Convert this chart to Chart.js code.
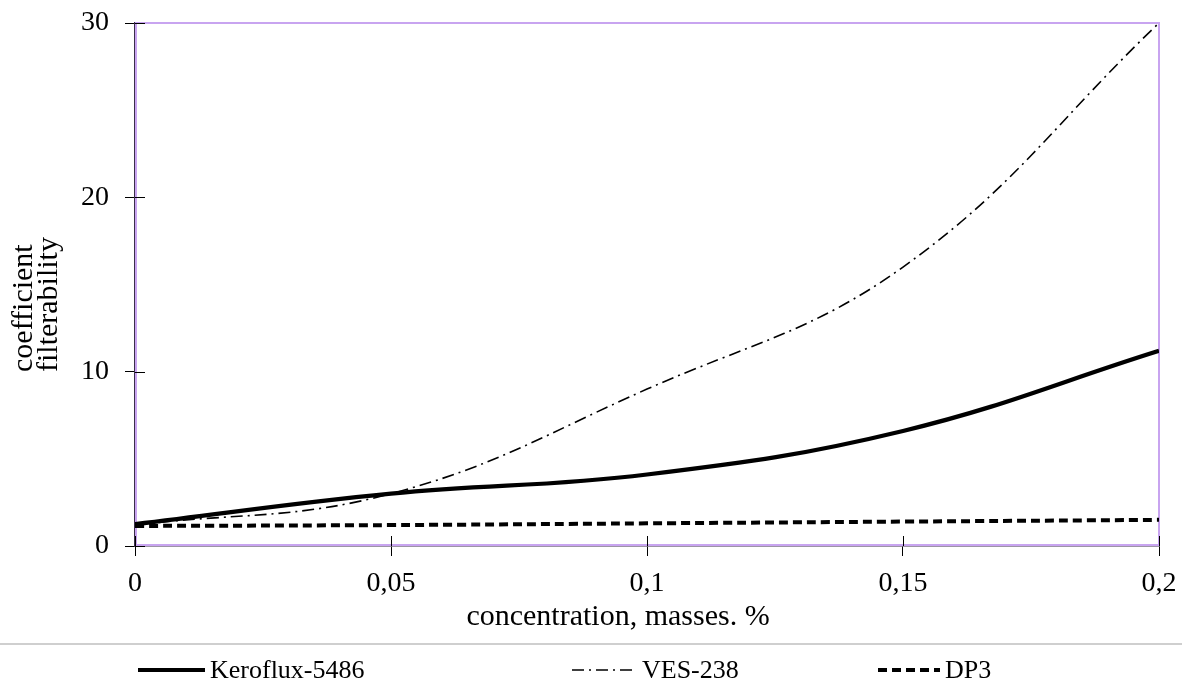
<!DOCTYPE html>
<html>
<head>
<meta charset="utf-8">
<title>Filterability coefficient vs concentration</title>
<script src="https://cdn.jsdelivr.net/npm/chart.js@4.4.1/dist/chart.umd.min.js"></script>
<style>
  html, body { margin: 0; padding: 0; background: #ffffff; }
  #wrap { width: 1182px; height: 689px; position: relative; }
  canvas { display: block; }
</style>
</head>
<body>
<div id="wrap"><canvas id="chart" width="1182" height="689"></canvas></div>
<script>
// Concentration, mass %
const concentration = [0, 0.05, 0.1, 0.15, 0.2];
// Filterability coefficient per additive
const keroflux5486 = [1.25, 3.0, 4.1, 6.6, 11.2];
const ves238 = [1.2, 3.0, 9.0, 16.0, 30.0];
const dp3 = [1.15, 1.2, 1.3, 1.4, 1.5];

const seriesNames = ['Keroflux-5486', 'VES-238', 'DP3'];
const xTickLabels = ['0', '0,05', '0,1', '0,15', '0,2'];
const yTickLabels = ['0', '10', '20', '30'];
const xTitle = 'concentration, masses. %';
const yTitle = ['coefficient', 'filterability'];

const SERIF = '"Liberation Serif", "Times New Roman", serif';
const INK = '#000000';

function points(ys) {
  return concentration.map((x, i) => ({ x: x, y: ys[i] }));
}

// Styles per series: solid thick, thin dash-dot, thick dashed
const styles = [
  { borderWidth: 4.2, borderDash: [] },
  { borderWidth: 1.6, borderDash: [12, 5, 2, 5] },
  { borderWidth: 4, borderDash: [9, 5] }
];
const values = [keroflux5486, ves238, dp3];

const datasets = seriesNames.map((name, i) => ({
  label: name,
  data: points(values[i]),
  borderColor: INK,
  backgroundColor: INK,
  borderWidth: styles[i].borderWidth,
  borderDash: styles[i].borderDash,
  borderCapStyle: 'butt',
  pointRadius: 0,
  pointHoverRadius: 0,
  tension: 0.4,
  fill: false
}));

// Plot frame, crossing ticks, axis titles and the legend row
const decorations = {
  id: 'decorations',
  beforeDatasetsDraw(chart) {
    const { ctx, chartArea: a } = chart;
    ctx.save();
    ctx.strokeStyle = '#c8a4f0';
    ctx.lineWidth = 2;
    ctx.strokeRect(a.left + 1, a.top, a.right - a.left - 1, a.bottom - a.top - 1);
    ctx.restore();
  },
  afterDraw(chart) {
    const { ctx, chartArea: a, scales } = chart;
    ctx.save();

    // inner halves of the tick marks
    ctx.strokeStyle = INK;
    ctx.lineWidth = 1;
    ctx.beginPath();
    scales.x.ticks.forEach(t => {
      const px = Math.round(scales.x.getPixelForValue(t.value)) + 0.5;
      ctx.moveTo(px, a.bottom);
      ctx.lineTo(px, a.bottom - 10);
    });
    scales.y.ticks.forEach(t => {
      const py = Math.round(scales.y.getPixelForValue(t.value)) + 0.5;
      ctx.moveTo(a.left, py);
      ctx.lineTo(a.left + 10, py);
    });
    ctx.stroke();

    // x axis title
    ctx.fillStyle = INK;
    ctx.font = '30px ' + SERIF;
    ctx.textAlign = 'center';
    ctx.textBaseline = 'middle';
    ctx.fillText(xTitle, (a.left + a.right) / 2 - 29, 617);

    // y axis title, two lines read bottom to top
    ctx.save();
    ctx.translate(0, 372);
    ctx.rotate(-Math.PI / 2);
    ctx.textAlign = 'left';
    ctx.textBaseline = 'middle';
    ctx.font = '30px ' + SERIF;
    ctx.fillText(yTitle[0], 0, 24);
    ctx.fillText(yTitle[1], 0, 49);
    ctx.restore();

    // separator above the legend
    ctx.strokeStyle = '#bfbfbf';
    ctx.lineWidth = 1.5;
    ctx.beginPath();
    ctx.moveTo(0, 644);
    ctx.lineTo(chart.width, 644);
    ctx.stroke();

    // legend entries
    const legendX = [138, 572, 878];
    const sampleW = [67, 65, 62];
    const ly = 670;
    ctx.font = '26px ' + SERIF;
    ctx.textAlign = 'left';
    ctx.textBaseline = 'middle';
    chart.data.datasets.forEach((ds, i) => {
      const x0 = legendX[i];
      ctx.save();
      ctx.strokeStyle = ds.borderColor;
      ctx.lineWidth = ds.borderWidth;
      ctx.setLineDash(ds.borderDash || []);
      ctx.lineCap = 'butt';
      ctx.beginPath();
      ctx.moveTo(x0, ly);
      ctx.lineTo(x0 + sampleW[i], ly);
      ctx.stroke();
      ctx.restore();
      ctx.fillStyle = INK;
      ctx.fillText(ds.label, x0 + sampleW[i] + 5, ly + 1);
    });

    ctx.restore();
  }
};

new Chart(document.getElementById('chart'), {
  type: 'line',
  data: { datasets: datasets },
  options: {
    responsive: false,
    animation: false,
    events: [],
    layout: { padding: { top: 23, right: 23, bottom: 83, left: 0 } },
    plugins: {
      legend: { display: false },
      tooltip: { enabled: false },
      title: { display: false }
    },
    scales: {
      x: {
        type: 'linear',
        min: 0,
        max: 0.2,
        afterFit(scale) {
          scale.height = 60;
          scale.paddingLeft = 0;
          scale.paddingRight = 0;
        },
        afterBuildTicks(scale) {
          scale.ticks = concentration.map(v => ({ value: v }));
        },
        ticks: {
          autoSkip: false,
          maxRotation: 0,
          padding: 11,
          color: INK,
          font: { family: SERIF, size: 28 },
          callback: (v, i) => xTickLabels[i]
        },
        grid: {
          display: true,
          drawOnChartArea: false,
          drawTicks: true,
          tickLength: 10,
          color: INK,
          lineWidth: 1
        },
        border: { display: true, color: '#3a2d4a', width: 1.5 }
      },
      y: {
        type: 'linear',
        min: 0,
        max: 30,
        afterFit(scale) {
          scale.width = 135;
          scale.paddingTop = 0;
          scale.paddingBottom = 0;
        },
        afterBuildTicks(scale) {
          scale.ticks = yTickLabels.map(v => ({ value: Number(v) }));
        },
        ticks: {
          padding: 16,
          color: INK,
          font: { family: SERIF, size: 28 },
          callback: (v, i) => yTickLabels[i]
        },
        grid: {
          display: true,
          drawOnChartArea: false,
          drawTicks: true,
          tickLength: 10,
          color: INK,
          lineWidth: 1
        },
        border: { display: true, color: '#3a2d4a', width: 1.5 }
      }
    }
  },
  plugins: [decorations]
});
</script>
</body>
</html>
